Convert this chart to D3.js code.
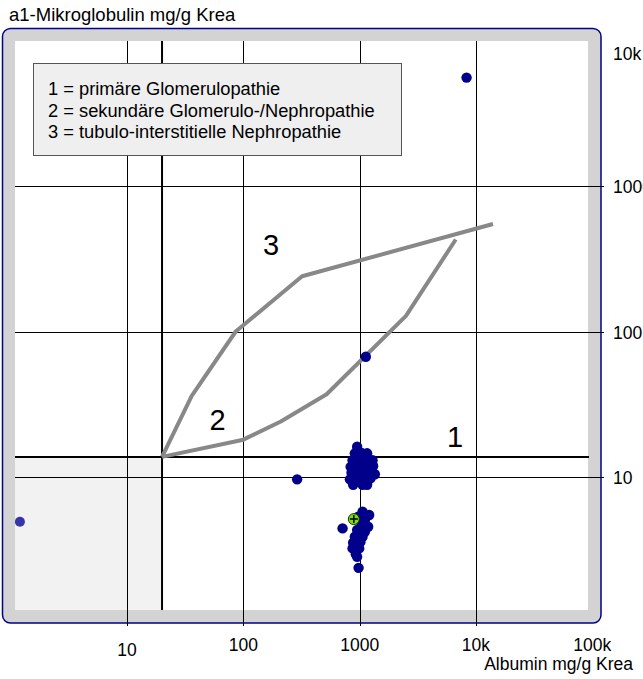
<!DOCTYPE html>
<html>
<head>
<meta charset="utf-8">
<script src="https://cdn.jsdelivr.net/npm/d3@7"></script>
<style>
  body { margin: 0; background: #fff; }
  svg { font-family: "Liberation Sans", Arial, sans-serif; }
</style>
</head>
<body>
<div id="chart"></div>
<script>

// tick values / labels
const xTicks = [10, 100, 1000, 10000, 100000];
const xTickLabels = ["10", "100", "1000", "10k", "100k"];
const yTicks = [10, 100, 1000, 10000];
const yTickLabels = ["10", "100", "1000", "10k"];

// limits
const albuminLimit = 20;
const mikroLimit = 13.7;

// zone borders (albumin, a1-mikroglobulin)
const upperBorder = [[20, 13.7], [36, 36], [86, 100], [320, 240], [14000, 550]];
const lowerBorder = [[20, 13.7], [100, 18], [210, 24], [520, 37], [2500, 128], [6700, 430]];

const zoneLabels = ["1", "2", "3"];
const zoneLabelPos = [[6600, 18.7], [60, 24.6], [173, 394]];

const legendLines = [
  "1 = primäre Glomerulopathie",
  "2 = sekundäre Glomerulo-/Nephropathie",
  "3 = tubulo-interstitielle Nephropathie"
];

// measurements
const albumin = [
  951, 909, 1038, 1159, 869, 1004, 1159, 1291, 836, 951, 1109, 1306,
  851, 991, 1159, 1351, 824, 951, 1115, 879, 1159, 1241, 1059,
  1059, 1208, 971, 1109, 1038, 1183, 951, 1109, 909, 1059, 879, 1016,
  869, 991, 927, 951, 713, 979,
  290, 1130, 8300
];
const mikroglobulin = [
  16.1, 14.5, 14.6, 14.5, 13.0, 13.2, 13.4, 13.0, 11.7, 11.85, 11.85, 11.85,
  10.65, 10.8, 10.65, 10.4, 9.6, 9.6, 9.6, 8.8, 8.8, 9.75, 8.8,
  5.74, 5.45, 5.30, 5.03, 4.65, 4.53, 4.30, 4.18, 3.86, 3.86, 3.51, 3.56,
  3.21, 3.21, 2.93, 2.81, 4.41, 2.36,
  9.6, 67, 5600
];

// out of range value (albumin < 1.5)
const lowPoint = [1.2, 4.9];
// current patient
const currentPoint = [891, 5.11];

const W = 643, H = 679;
const plot = { left: 15, top: 41, right: 588, bottom: 610 };

const svg = d3.select("#chart").append("svg")
  .attr("width", W)
  .attr("height", H);

const x = d3.scaleLog().domain([1, 100000]).range([10.7, 592.3]);
const y = d3.scaleLog().domain([1, 10000]).range([622, 41]);

// frame
svg.append("rect")
  .attr("x", 2.5).attr("y", 28.5)
  .attr("width", 598.5).attr("height", 594.5)
  .attr("rx", 8)
  .attr("fill", "#d3d3d3")
  .attr("stroke", "#00008b")
  .attr("stroke-width", 1.5);

svg.append("rect")
  .attr("x", plot.left).attr("y", plot.top)
  .attr("width", plot.right - plot.left)
  .attr("height", plot.bottom - plot.top)
  .attr("fill", "#fff");

// normal range
svg.append("rect")
  .attr("x", plot.left)
  .attr("y", y(mikroLimit))
  .attr("width", x(albuminLimit) - plot.left)
  .attr("height", plot.bottom - y(mikroLimit))
  .attr("fill", "#f2f2f2");

// grid
svg.append("g").selectAll("line")
  .data(xTicks.filter(d => x(d) < plot.right))
  .join("line")
  .attr("x1", d => Math.round(x(d)) + 0.5)
  .attr("x2", d => Math.round(x(d)) + 0.5)
  .attr("y1", plot.top)
  .attr("y2", 626)
  .attr("stroke", "#000");

svg.append("g").selectAll("line")
  .data(yTicks.filter(d => y(d) > plot.top + 1))
  .join("line")
  .attr("x1", plot.left)
  .attr("x2", 604)
  .attr("y1", d => Math.round(y(d)) + 0.5)
  .attr("y2", d => Math.round(y(d)) + 0.5)
  .attr("stroke", "#000");

// limit lines
svg.append("line")
  .attr("x1", x(albuminLimit)).attr("x2", x(albuminLimit))
  .attr("y1", plot.top).attr("y2", plot.bottom)
  .attr("stroke", "#000").attr("stroke-width", 2);

svg.append("line")
  .attr("x1", plot.left).attr("x2", plot.right + 1)
  .attr("y1", y(mikroLimit)).attr("y2", y(mikroLimit))
  .attr("stroke", "#000").attr("stroke-width", 2);

// zones
const line = d3.line()
  .x(d => x(d[0]))
  .y(d => y(d[1]));

[upperBorder, lowerBorder].forEach(b => {
  svg.append("path")
    .datum(b)
    .attr("d", line)
    .attr("fill", "none")
    .attr("stroke", "#888")
    .attr("stroke-width", 4)
    .attr("stroke-linejoin", "round");
});

svg.append("g").selectAll("text")
  .data(zoneLabels)
  .join("text")
  .attr("x", (d, i) => x(zoneLabelPos[i][0]))
  .attr("y", (d, i) => y(zoneLabelPos[i][1]))
  .attr("dy", "0.35em")
  .attr("text-anchor", "middle")
  .attr("font-size", 29)
  .text(d => d);

// legend
const lg = svg.append("g");
lg.append("rect")
  .attr("x", 33.5).attr("y", 63.5)
  .attr("width", 368).attr("height", 92)
  .attr("fill", "#efefef")
  .attr("stroke", "#555");

lg.selectAll("text")
  .data(legendLines)
  .join("text")
  .attr("x", 48)
  .attr("y", (d, i) => 89 + i * 21.5)
  .attr("dy", "0.35em")
  .attr("font-size", 18.3)
  .text(d => d);

// points
const pts = albumin.map((a, i) => [a, mikroglobulin[i]]);

svg.append("g").selectAll("circle")
  .data(pts)
  .join("circle")
  .attr("cx", d => x(d[0]))
  .attr("cy", d => y(d[1]))
  .attr("r", 5.2)
  .attr("fill", "#00008b");

svg.append("circle")
  .attr("cx", x(lowPoint[0]))
  .attr("cy", y(lowPoint[1]))
  .attr("r", 5)
  .attr("fill", "#3535a8");

const cur = svg.append("g")
  .attr("transform", "translate(" + x(currentPoint[0]) + "," + y(currentPoint[1]) + ")");
cur.append("circle")
  .attr("r", 5.5)
  .attr("fill", "#7fe000")
  .attr("stroke", "#0a3a0a")
  .attr("stroke-width", 1);
cur.append("path")
  .attr("d", "M-4,0H4M0,-4V4")
  .attr("stroke", "#000")
  .attr("stroke-width", 1.5);

// tick labels
svg.append("g").selectAll("text")
  .data(xTicks)
  .join("text")
  .attr("x", d => x(d))
  .attr("y", (d, i) => i == 0 ? 650 : 645)
  .attr("dy", "0.35em")
  .attr("text-anchor", "middle")
  .attr("font-size", 17.5)
  .text((d, i) => xTickLabels[i]);

svg.append("g").selectAll("text")
  .data(yTicks)
  .join("text")
  .attr("x", 613)
  .attr("y", d => d == 10000 ? y(d) + 13 : y(d) + 1)
  .attr("dy", "0.35em")
  .attr("font-size", 17.5)
  .text((d, i) => yTickLabels[i]);

// axis titles
svg.append("text")
  .attr("x", 9).attr("y", 15)
  .attr("dy", "0.35em")
  .attr("font-size", 18.5)
  .text("a1-Mikroglobulin mg/g Krea");

svg.append("text")
  .attr("x", 633).attr("y", 664)
  .attr("dy", "0.35em")
  .attr("text-anchor", "end")
  .attr("font-size", 17.5)
  .text("Albumin mg/g Krea");

</script>
</body>
</html>
